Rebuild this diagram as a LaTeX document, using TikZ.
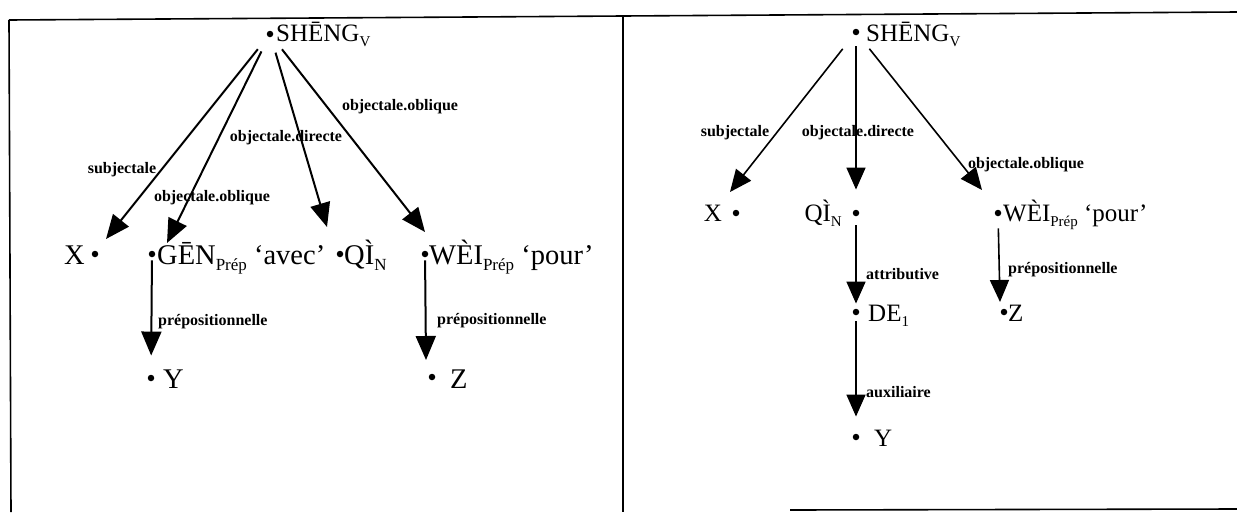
\documentclass[tikz,border=0pt]{standalone}
\usepackage{fontspec}
\setmainfont{Liberation Serif}
\usetikzlibrary{arrows.meta}
\newcommand\lsub[1]{\raisebox{-0.22em}{\fontsize{15}{15}\selectfont #1}}
\newcommand\bsub[1]{\raisebox{-0.22em}{\fontsize{17}{17}\selectfont #1}}
\begin{document}
\begin{tikzpicture}[x=1pt,y=-1pt,
  bul/.style={circle,fill=black,inner sep=0pt,minimum size=6.5pt},
  txt/.style={inner sep=0pt,font=\fontsize{25}{25}\selectfont},
  btxt/.style={inner sep=0pt,font=\fontsize{28.5}{28.5}\selectfont},
  lab/.style={inner sep=0pt,font=\fontsize{16}{16}\selectfont\bfseries},
  arrL/.style={line width=2pt,-{Triangle[length=24pt,width=20pt]}},
  arrR/.style={line width=1.6pt,-{Triangle[length=22pt,width=19pt]}},
  frame/.style={line width=1.6pt}]
\useasboundingbox (0,0) rectangle (1237,512);
% frame
\draw[frame] (9,20) -- (1237,12);
\draw[frame] (9,20) -- (11,512);
\draw[frame] (623,16) -- (623,512);
\draw[frame] (790,510) -- (1237,509);
% ---------- left panel ----------
\node[bul] (L0) at (270,34) {};
\node[txt,anchor=base west] (L0t) at (276,41) {SHĒNG\lsub{V}};
\node[bul] (LX) at (95,254) {};
\node[btxt,anchor=base east] (LXt) at (85,264) {X};
\node[bul] (LG) at (152,254) {};
\node[btxt,anchor=base west] (LGt) at (157,264) {GĒN\bsub{Prép} ‘avec’};
\node[bul] (LQ) at (340,254) {};
\node[btxt,anchor=base west] (LQt) at (344,264) {QÌ\bsub{N}};
\node[bul] (LW) at (425,254) {};
\node[btxt,anchor=base west] (LWt) at (429,264) {WÈI\bsub{Prép} ‘pour’};
\node[bul] (LY) at (151,378) {};
\node[btxt,anchor=base west] (LYt) at (163,388) {Y};
\node[bul] (LZ) at (432,377) {};
\node[btxt,anchor=base west] (LZt) at (450,388) {Z};
\coordinate (LtX) at (106,239);
\coordinate (LtG) at (167,243);
\coordinate (LtQ) at (327,227);
\coordinate (LtW) at (425,232);
\coordinate (LtZ) at (426,360);
\draw[arrL,shorten <=16pt] (L0) -- (LtX);
\draw[arrL,shorten <=16pt] (L0) -- (LtG);
\draw[arrL,shorten <=16pt] (L0) -- (LtQ);
\draw[arrL,shorten <=16pt] (L0) -- (LtW);
\draw[arrL,shorten <=3pt,shorten >=19pt] (LG) -- (LY);
\draw[arrL,shorten <=3pt] (LW) -- (LtZ);
\node[lab] (l1) at (400,107) {objectale.oblique};
\node[lab] (l2) at (286,138) {objectale.directe};
\node[lab] (l3) at (122,170) {subjectale};
\node[lab] (l4) at (212,198) {objectale.oblique};
\node[lab,anchor=west] (l5) at (158,322) {prépositionnelle};
\node[lab,anchor=west] (l6) at (437,321) {prépositionnelle};
% ---------- right panel ----------
\node[bul] (R0) at (856,32) {};
\node[txt,anchor=base west] (R0t) at (866,41) {SHĒNG\lsub{V}};
\node[bul] (RX) at (736,213) {};
\node[txt,anchor=base east] (RXt) at (722,221) {X};
\node[bul] (RQ) at (856,213) {};
\node[txt,anchor=base east] (RQt) at (842,221) {QÌ\lsub{N}};
\node[bul] (RW) at (998,213) {};
\node[txt,anchor=base west] (RWt) at (1003,221) {WÈI\lsub{Prép} ‘pour’};
\node[bul] (RD) at (856,312) {};
\node[txt,anchor=base west] (RDt) at (868,321) {DE\lsub{1}};
\node[bul] (RY) at (856,437) {};
\node[txt,anchor=base west] (RYt) at (874,446) {Y};
\node[bul] (RZ) at (1004,312) {};
\node[txt,anchor=base west] (RZt) at (1008,321) {Z};
\coordinate (RtX) at (730,192);
\coordinate (RtW) at (982,190);
\coordinate (RtZ) at (1000,302);
\draw[arrR,shorten <=18pt] (R0) -- (RtX);
\draw[arrR,shorten <=11pt,shorten >=20pt] (R0) -- (RQ);
\draw[arrR,shorten <=18pt] (R0) -- (RtW);
\draw[arrR,shorten <=9pt,shorten >=5pt] (RQ) -- (RD);
\draw[arrR,shorten <=6pt,shorten >=17pt] (RD) -- (RY);
\draw[arrR,shorten <=12pt] (RW) -- (RtZ);
\node[lab] (r1) at (735,133) {subjectale};
\node[lab] (r2) at (858,133) {objectale.directe};
\node[lab] (r3) at (1026,165) {objectale.oblique};
\node[lab,anchor=west] (r4) at (866,274) {attributive};
\node[lab,anchor=west] (r5) at (1008,270) {prépositionnelle};
\node[lab,anchor=west] (r6) at (866,392) {auxiliaire};
\end{tikzpicture}
\end{document}
